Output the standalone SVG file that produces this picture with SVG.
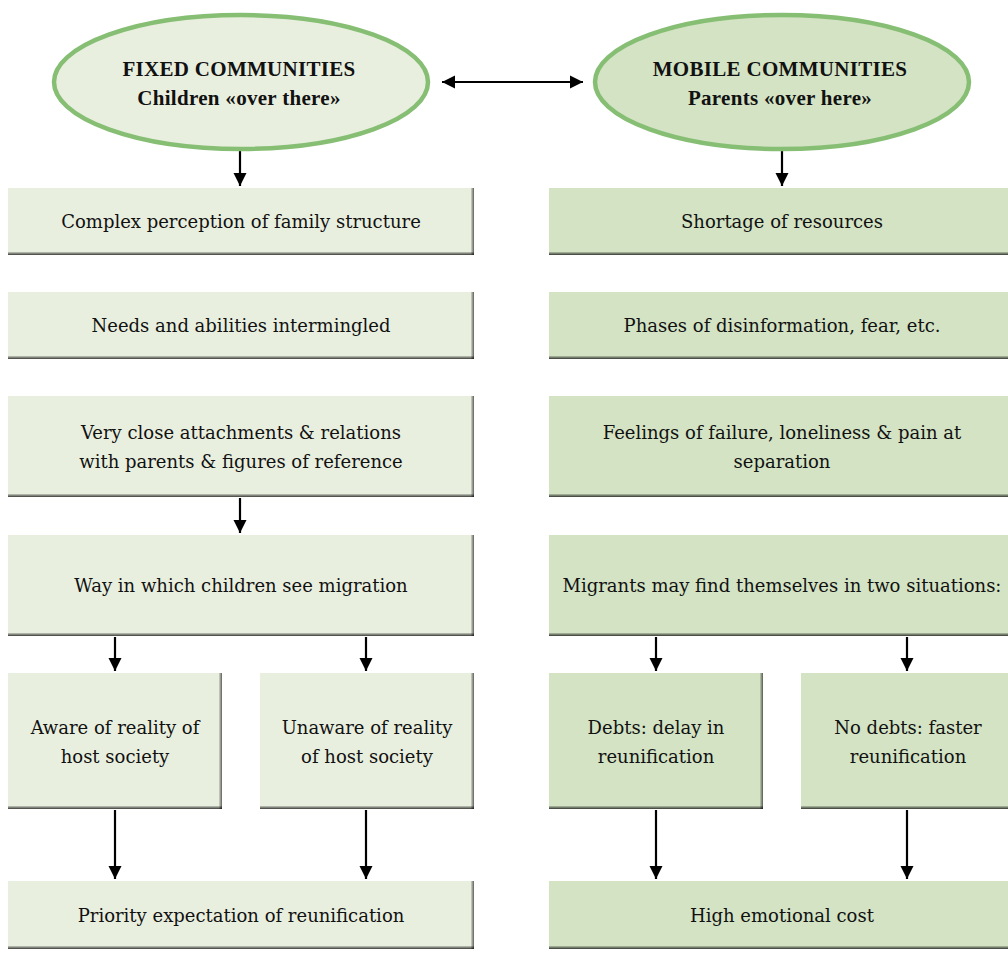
<svg xmlns="http://www.w3.org/2000/svg" width="1008" height="966" viewBox="0 0 1008 966">
<defs>
<style>
.bl{fill:#E9EFDF}
.br{fill:#D3E3C4}
.el{stroke:#86BE74;stroke-width:4.5}
.sb{fill:url(#gb)}
.sr{fill:url(#gr)}
text{font-family:'DejaVu Serif',serif;font-size:18px;font-weight:400;fill:#111;text-anchor:middle}
text.h{font-family:'Liberation Serif','DejaVu Serif',serif;font-weight:700;font-size:21px;letter-spacing:0.3px}
.c{stroke:#000;stroke-width:2.2;fill:none;marker-end:url(#ah)}
</style>
<linearGradient id="gb" x1="0" y1="0" x2="0" y2="1"><stop offset="0" stop-color="#000" stop-opacity="0.15"/><stop offset="1" stop-color="#000" stop-opacity="0.75"/></linearGradient>
<linearGradient id="gr" x1="0" y1="0" x2="1" y2="0"><stop offset="0" stop-color="#000" stop-opacity="0.1"/><stop offset="1" stop-color="#000" stop-opacity="0.6"/></linearGradient>
<marker id="ah" viewBox="0 0 10 10" refX="10" refY="5" markerWidth="6" markerHeight="6" orient="auto-start-reverse" markerUnits="strokeWidth"><path d="M0,0L10,5L0,10z" fill="#000"/></marker>
</defs>
<rect width="1008" height="966" fill="#fff"/>

<g id="connectors">
<path class="c" d="M442,82H583" marker-start="url(#ah)"/>
<path class="c" d="M240,151V186"/>
<path class="c" d="M782,151V186"/>
<path class="c" d="M240,498V533"/>
<path class="c" d="M115,637V671"/>
<path class="c" d="M366,637V671"/>
<path class="c" d="M656,637V671"/>
<path class="c" d="M907,637V671"/>
<path class="c" d="M115,810V879"/>
<path class="c" d="M366,810V879"/>
<path class="c" d="M656,810V879"/>
<path class="c" d="M907,810V879"/>
</g>

<g id="fixed">
<ellipse class="el" cx="241" cy="82" rx="187" ry="67" fill="#E9EFDF"/>
<text class="h" x="239" y="76">FIXED COMMUNITIES</text>
<text class="h" x="239" y="105">Children «over there»</text>
</g>
<g id="mobile">
<ellipse class="el" cx="782" cy="82" rx="187" ry="67" fill="#D3E3C4"/>
<text class="h" x="780" y="76">MOBILE COMMUNITIES</text>
<text class="h" x="780" y="105">Parents «over here»</text>
</g>

<g id="l1"><rect class="bl" x="8" y="188" width="466" height="67"/><rect class="sb" x="8" y="252" width="466" height="3"/><rect class="sr" x="471" y="188" width="3" height="67"/><text x="241" y="228">Complex perception of family structure</text></g>
<g id="l2"><rect class="bl" x="8" y="292" width="466" height="67"/><rect class="sb" x="8" y="356" width="466" height="3"/><rect class="sr" x="471" y="292" width="3" height="67"/><text x="241" y="332">Needs and abilities intermingled</text></g>
<g id="l3"><rect class="bl" x="8" y="396" width="466" height="101"/><rect class="sb" x="8" y="494" width="466" height="3"/><rect class="sr" x="471" y="396" width="3" height="101"/><text x="241" y="439">Very close attachments &amp; relations</text><text x="241" y="468">with parents &amp; figures of reference</text></g>
<g id="l4"><rect class="bl" x="8" y="535" width="466" height="101"/><rect class="sb" x="8" y="633" width="466" height="3"/><rect class="sr" x="471" y="535" width="3" height="101"/><text x="241" y="592">Way in which children see migration</text></g>
<g id="l5a"><rect class="bl" x="8" y="673" width="214" height="136"/><rect class="sb" x="8" y="806" width="214" height="3"/><rect class="sr" x="219" y="673" width="3" height="136"/><text x="115" y="734">Aware of reality of</text><text x="115" y="763">host society</text></g>
<g id="l5b"><rect class="bl" x="260" y="673" width="214" height="136"/><rect class="sb" x="260" y="806" width="214" height="3"/><rect class="sr" x="471" y="673" width="3" height="136"/><text x="367" y="734">Unaware of reality</text><text x="367" y="763">of host society</text></g>
<g id="l6"><rect class="bl" x="8" y="881" width="466" height="68"/><rect class="sb" x="8" y="946" width="466" height="3"/><rect class="sr" x="471" y="881" width="3" height="68"/><text x="241" y="922">Priority expectation of reunification</text></g>

<g id="r1"><rect class="br" x="549" y="188" width="466" height="67"/><rect class="sb" x="549" y="252" width="466" height="3"/><text x="782" y="228">Shortage of resources</text></g>
<g id="r2"><rect class="br" x="549" y="292" width="466" height="67"/><rect class="sb" x="549" y="356" width="466" height="3"/><text x="782" y="332">Phases of disinformation, fear, etc.</text></g>
<g id="r3"><rect class="br" x="549" y="396" width="466" height="101"/><rect class="sb" x="549" y="494" width="466" height="3"/><text x="782" y="439">Feelings of failure, loneliness &amp; pain at</text><text x="782" y="468">separation</text></g>
<g id="r4"><rect class="br" x="549" y="535" width="466" height="101"/><rect class="sb" x="549" y="633" width="466" height="3"/><text x="782" y="592">Migrants may find themselves in two situations:</text></g>
<g id="r5a"><rect class="br" x="549" y="673" width="214" height="136"/><rect class="sb" x="549" y="806" width="214" height="3"/><rect class="sr" x="760" y="673" width="3" height="136"/><text x="656" y="734">Debts: delay in</text><text x="656" y="763">reunification</text></g>
<g id="r5b"><rect class="br" x="801" y="673" width="214" height="136"/><rect class="sb" x="801" y="806" width="214" height="3"/><text x="908" y="734">No debts: faster</text><text x="908" y="763">reunification</text></g>
<g id="r6"><rect class="br" x="549" y="881" width="466" height="68"/><rect class="sb" x="549" y="946" width="466" height="3"/><text x="782" y="922">High emotional cost</text></g>
</svg>
